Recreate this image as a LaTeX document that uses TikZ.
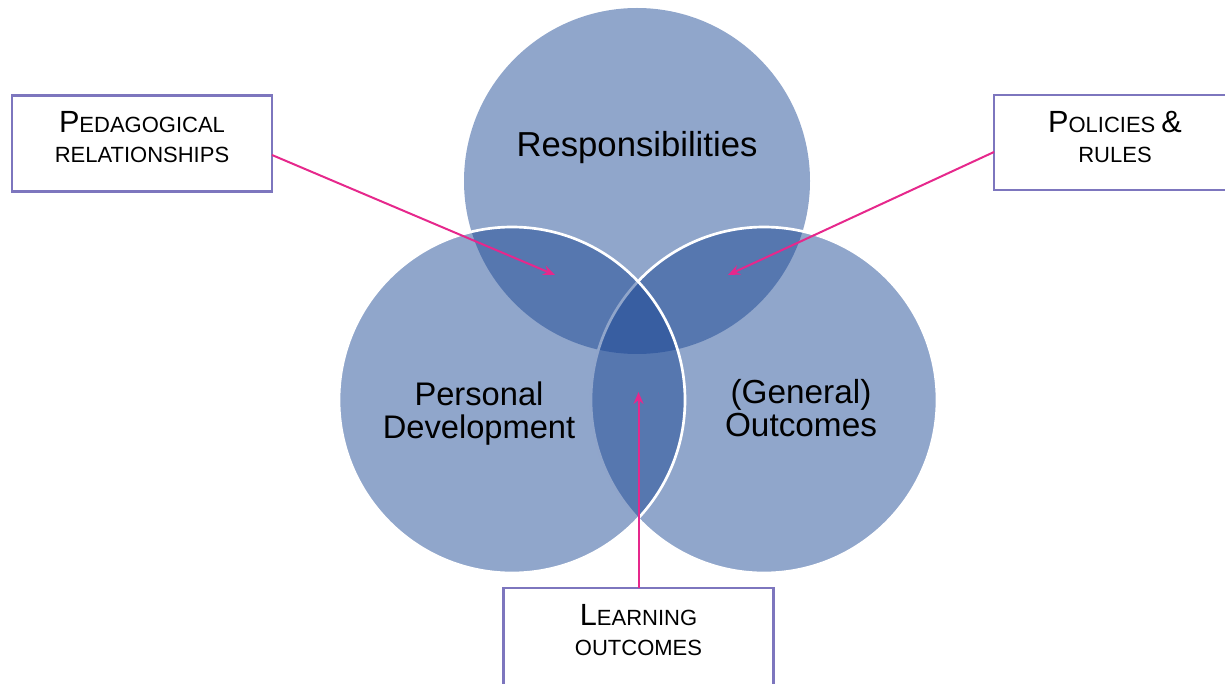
\documentclass[tikz,border=0pt]{standalone}
\usepackage{fontspec}
\setmainfont{Liberation Sans}
\usetikzlibrary{arrows.meta,calc}

\definecolor{vennblue}{RGB}{23,68,146}
\definecolor{boxline}{RGB}{125,118,190}
\definecolor{arrowpink}{RGB}{230,40,140}

% small-caps style lettering for the callout boxes
\newcommand\capsbig{\fontsize{23}{22.5}\selectfont}
\newcommand\capssmall{\fontsize{16.5}{22.5}\selectfont}

\begin{document}
\begin{tikzpicture}[x=0.75pt,y=-0.75pt,
  venn/.style={circle,inner sep=0pt,outer sep=0pt,minimum size=259.5pt,
    fill=vennblue,fill opacity=0.48},
  vennrim/.style={venn,draw=white,draw opacity=1,line width=2pt},
  circtext/.style={inner sep=0pt,anchor=base,text=black},
  callout/.style={draw=boxline,line width=1.6pt,fill=white,inner sep=0pt,outer sep=0pt},
  calltext/.style={inner sep=0pt,anchor=base,font=\capssmall},
  calloutarrow/.style={draw=arrowpink,line width=1.5pt,
    -{Stealth[length=9pt,width=7.5pt,inset=3pt]}}
]
\useasboundingbox (0,0) rectangle (1225,684);
\clip (0,0) rectangle (1225,684);

% three overlapping circles
\node[venn]     (resp) at (637,181) {};
\node[vennrim]  (gen)  at (764,400) {};
\node[vennrim]  (pers) at (512,400) {};

% circle captions
\node[circtext,font=\fontsize{26}{30}\selectfont] (tresp) at (637,157) {Responsibilities};
\node[circtext,font=\fontsize{24.5}{24.75}\selectfont] (tpers) at (479,405)
  {\begin{tabular}[t]{@{}c@{}}Personal\\Development\end{tabular}};
\node[circtext,font=\fontsize{25}{25.2}\selectfont] (tgen) at (801,403)
  {\begin{tabular}[t]{@{}c@{}}(General)\\Outcomes\end{tabular}};

% callout boxes
\node[callout,minimum width=195pt,minimum height=72pt] (lbox) at (142,143.5) {};
\node[calltext] (lboxtext) at (142,133)
  {\begin{tabular}[t]{@{}c@{}}{\capsbig P}EDAGOGICAL\\RELATIONSHIPS\end{tabular}};

\node[callout,minimum width=181.5pt,minimum height=71.25pt] (rbox) at (1115,142.5) {};
\node[calltext] (rboxtext) at (1115,133)
  {\begin{tabular}[t]{@{}c@{}}{\capsbig P}OLICIES {\capsbig\&}\\RULES\end{tabular}};

\node[callout,minimum width=202.5pt,minimum height=73.5pt] (bbox) at (638.5,637) {};
\node[calltext] (bboxtext) at (638.5,625)
  {\begin{tabular}[t]{@{}c@{}}{\capsbig L}EARNING\\OUTCOMES\end{tabular}};

% pointers into the overlaps
\coordinate (ptrL) at (555,275);
\coordinate (ptrR) at (728,275);
\coordinate (ptrB) at (638.5,392);
\draw[calloutarrow] ($(lbox.east)+(0,11.5)$) -- (ptrL);
\draw[calloutarrow] ($(rbox.west)+(0,9.5)$) -- (ptrR);
\draw[calloutarrow] (bbox.north) -- (ptrB);
\end{tikzpicture}
\end{document}
